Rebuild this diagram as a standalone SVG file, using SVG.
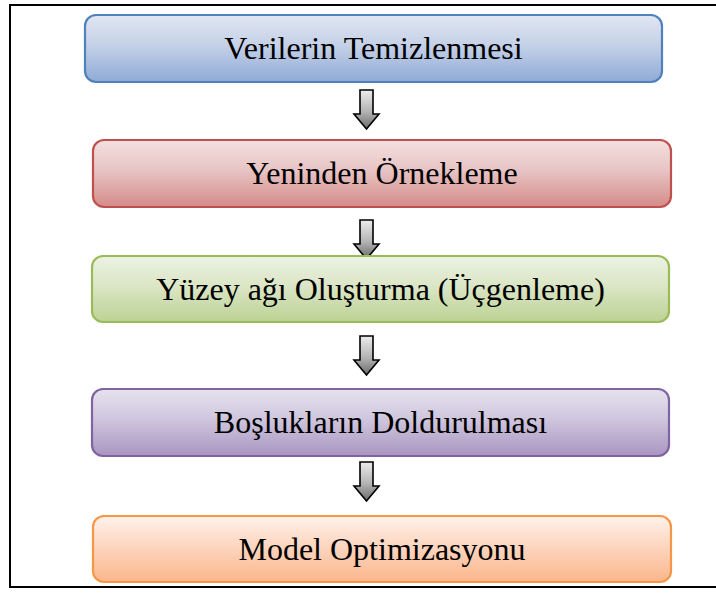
<svg xmlns="http://www.w3.org/2000/svg" width="716" height="597" viewBox="0 0 716 597">
<style>
.box{stroke-width:2.2}
.lbl{font-family:"Liberation Serif","Times New Roman",serif;font-size:32px;fill:#000;text-anchor:middle}
.arr{stroke:#000;stroke-width:1.6;stroke-linejoin:miter;fill:url(#gArr)}
</style>
<defs>
<linearGradient id="gBlue" x1="0" y1="0" x2="0" y2="1"><stop offset="0" stop-color="#e1e6f1"/><stop offset="0.45" stop-color="#c5d1e8"/><stop offset="1" stop-color="#8faad6"/></linearGradient>
<linearGradient id="gRed" x1="0" y1="0" x2="0" y2="1"><stop offset="0" stop-color="#f4e0e0"/><stop offset="0.45" stop-color="#e8c4c4"/><stop offset="1" stop-color="#d58b89"/></linearGradient>
<linearGradient id="gGreen" x1="0" y1="0" x2="0" y2="1"><stop offset="0" stop-color="#ecf2e2"/><stop offset="0.45" stop-color="#dbe6c6"/><stop offset="1" stop-color="#bcd294"/></linearGradient>
<linearGradient id="gPurple" x1="0" y1="0" x2="0" y2="1"><stop offset="0" stop-color="#e6e2ee"/><stop offset="0.45" stop-color="#cfc6dd"/><stop offset="1" stop-color="#a895c1"/></linearGradient>
<linearGradient id="gOrange" x1="0" y1="0" x2="0" y2="1"><stop offset="0" stop-color="#fff2ec"/><stop offset="0.45" stop-color="#fdd6c0"/><stop offset="1" stop-color="#fbb68c"/></linearGradient>
<linearGradient id="gArr" x1="0" y1="0" x2="0" y2="1"><stop offset="0" stop-color="#ececec"/><stop offset="0.55" stop-color="#b4b4b4"/><stop offset="1" stop-color="#6a6a6a"/></linearGradient>
<path id="arrow" d="M-6.5,0 H6.5 V24 H12.5 L0,39 L-12.5,24 H-6.5 Z"/>
</defs>
<rect width="716" height="597" fill="#fff"/>
<path d="M718,5 H10 V587 H718" fill="none" stroke="#000" stroke-width="2"/>
<g id="connectors">
<use href="#arrow" class="arr" transform="translate(366.5,90)"/>
<use href="#arrow" class="arr" transform="translate(366.5,220)"/>
<use href="#arrow" class="arr" transform="translate(366.5,336)"/>
<use href="#arrow" class="arr" transform="translate(366.5,462)"/>
</g>
<g id="node1">
<rect class="box" x="85" y="15" width="577" height="67" rx="11" fill="url(#gBlue)" stroke="#4f81bd"/>
<text class="lbl" x="373.5" y="59">Verilerin Temizlenmesi</text>
</g>
<g id="node2">
<rect class="box" x="93" y="140" width="578" height="67" rx="11" fill="url(#gRed)" stroke="#c0504d"/>
<text class="lbl" x="382" y="184">Yeninden Örnekleme</text>
</g>
<g id="node3">
<rect class="box" x="92" y="256" width="577" height="66" rx="11" fill="url(#gGreen)" stroke="#9bbb59"/>
<text class="lbl" x="380.5" y="300">Yüzey ağı Oluşturma (Üçgenleme)</text>
</g>
<g id="node4">
<rect class="box" x="92" y="389" width="577" height="67" rx="11" fill="url(#gPurple)" stroke="#8064a2"/>
<text class="lbl" x="380.5" y="433">Boşlukların Doldurulması</text>
</g>
<g id="node5">
<rect class="box" x="93" y="516" width="578" height="66" rx="11" fill="url(#gOrange)" stroke="#f79646"/>
<text class="lbl" x="382" y="560">Model Optimizasyonu</text>
</g>
</svg>
